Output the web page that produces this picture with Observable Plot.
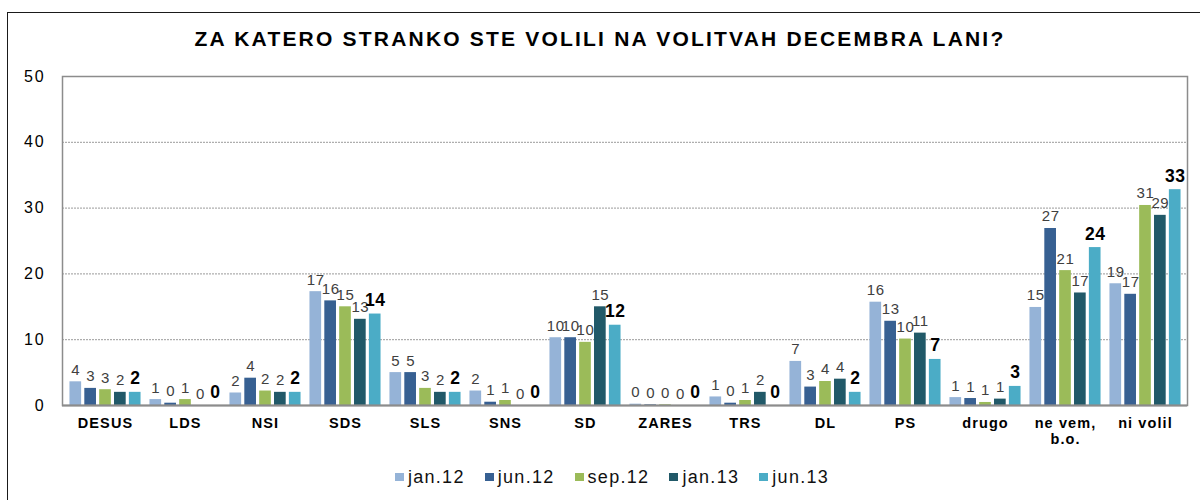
<!DOCTYPE html>
<html>
<head>
<meta charset="utf-8">
<script src="https://cdn.jsdelivr.net/npm/d3@7"></script>
<script src="https://cdn.jsdelivr.net/npm/@observablehq/plot@0.6"></script>
<style>
html, body { margin: 0; padding: 0; background: #fff; overflow: hidden; }
body { font-family: Arial, "Liberation Sans", sans-serif; width: 1200px; height: 500px; position: relative; }
#box { position: absolute; left: 7px; top: 12px; width: 1300px; height: 600px; border-left: 1px solid #1a1a1a; border-top: 1px solid #1a1a1a; pointer-events: none; }
#title { height: 60px; box-sizing: border-box; padding-top: 27px; text-align: center; font-size: 21px; font-weight: bold; line-height: 24px; letter-spacing: 2.2px; color: #000; }
#chart svg { display: block; }
#legend { display: flex; justify-content: center; align-items: center; height: 30px; margin-top: 12px; padding-left: 24px; font-size: 18px; letter-spacing: 1.3px; color: #111; }
#legend .item { display: flex; align-items: center; margin: 0 10px; }
#legend .sw { width: 9px; height: 8px; margin-right: 4px; }
g[font-size="16"] text { letter-spacing: 1.8px; }
g[font-size="14.5"] text { letter-spacing: 1.1px; }
g[font-size="15"] text { letter-spacing: 0.6px; }
g[font-size="17.5"] text { letter-spacing: 0.4px; }
</style>
</head>
<body>
<div id="title">ZA KATERO STRANKO STE VOLILI NA VOLITVAH DECEMBRA LANI?</div>
<div id="chart"></div>
<div id="legend"></div>
<div id="box"></div>
<script>
const categories = ["DESUS", "LDS", "NSI", "SDS", "SLS", "SNS", "SD", "ZARES", "TRS", "DL", "PS", "drugo", "ne vem,\nb.o.", "ni volil"];
const series = ["jan.12", "jun.12", "sep.12", "jan.13", "jun.13"];
const colors = ["#95B3D7", "#376092", "#9BBB59", "#215968", "#4BACC6"];

// bar heights
const jan12 = [3.6, 0.9, 1.9, 17.3, 5.0, 2.2, 10.3, 0.2, 1.3, 6.7, 15.7, 1.2, 14.9, 18.5];
const jun12 = [2.6, 0.35, 4.15, 15.9, 5.0, 0.5, 10.3, 0.1, 0.35, 2.8, 12.8, 1.06, 26.9, 16.9];
const sep12 = [2.4, 0.9, 2.2, 15.0, 2.6, 0.76, 9.6, 0.1, 0.76, 3.65, 10.1, 0.46, 20.5, 30.4];
const jan13 = [2.0, 0, 2.0, 13.1, 2.0, 0, 15.0, 0, 2.0, 4.0, 11.0, 0.97, 17.1, 28.9];
const jun13 = [2.0, 0, 2.0, 13.9, 2.0, 0, 12.2, 0, 0, 2.0, 7.0, 2.9, 24.0, 32.8];

// data labels as printed
const lab_jan12 = [4, 1, 2, 17, 5, 2, 10, 0, 1, 7, 16, 1, 15, 19];
const lab_jun12 = [3, 0, 4, 16, 5, 1, 10, 0, 0, 3, 13, 1, 27, 17];
const lab_sep12 = [3, 1, 2, 15, 3, 1, 10, 0, 1, 4, 10, 1, 21, 31];
const lab_jan13 = [2, 0, 2, 13, 2, 0, 15, 0, 2, 4, 11, 1, 17, 29];
const lab_jun13 = [2, 0, 2, 14, 2, 0, 12, 0, 0, 2, 7, 3, 24, 33];

const yTicks = [0, 10, 20, 30, 40, 50];
const gridTicks = [10, 20, 30, 40];

const values = [jan12, jun12, sep12, jan13, jun13];
const labels = [lab_jan12, lab_jun12, lab_sep12, lab_jan13, lab_jun13];
const rows = series.map((s, i) => categories.map((c, j) => ({cat: c, value: values[i][j], label: String(labels[i][j])})));

const W = 1200, H = 390, mL = 62, mR = 13, mT = 16, mB = 45;
const bw = (W - mL - mR) / categories.length;
const sub = d3.scaleBand().domain(series).range([0, bw]).paddingInner(0.19).paddingOuter(0.3);

const barMarks = series.map((s, i) => Plot.barY(rows[i], {
  x: "cat", y: "value", fill: colors[i],
  insetLeft: sub(s), insetRight: bw - sub(s) - sub.bandwidth()
}));

const labelMarks = series.map((s, i) => {
  const last = i === series.length - 1;
  return Plot.text(rows[i], {
    x: "cat", y: "value", text: "label",
    dx: sub(s) + sub.bandwidth() / 2 - bw / 2,
    dy: last ? -8 : -7,
    lineAnchor: "bottom",
    fontSize: last ? 17.5 : 15,
    fontWeight: last ? "bold" : "normal",
    fill: last ? "#000" : "#404040"
  });
});

const chart = Plot.plot({
  width: W, height: H,
  marginLeft: mL, marginRight: mR, marginTop: mT, marginBottom: mB,
  style: {fontFamily: "Arial, 'Liberation Sans', sans-serif", background: "#fff", color: "#000"},
  x: {type: "band", domain: categories, padding: 0, axis: null},
  y: {domain: [0, 50], axis: null},
  marks: [
    Plot.ruleY(gridTicks, {stroke: "#9a9a9a", strokeDasharray: "2,1", strokeWidth: 1}),
    ...barMarks,
    Plot.frame({stroke: "#8c8c8c", strokeWidth: 1.5}),
    Plot.ruleY([0], {stroke: "#8c8c8c", strokeWidth: 2}),
    ...labelMarks,
    Plot.text(yTicks, {y: d => d, text: d => String(d), frameAnchor: "left", textAnchor: "end", dx: -17, fontSize: 16, fill: "#000"}),
    Plot.text(categories, {x: d => d, text: d => d, frameAnchor: "bottom", lineAnchor: "top", dy: 12, fontSize: 14.5, fontWeight: "bold", lineHeight: 1.05, fill: "#000"})
  ]
});
document.getElementById("chart").appendChild(chart);

const legend = document.getElementById("legend");
series.forEach((s, i) => {
  const item = document.createElement("div");
  item.className = "item";
  const sw = document.createElement("span");
  sw.className = "sw";
  sw.style.background = colors[i];
  const t = document.createElement("span");
  t.textContent = s;
  item.appendChild(sw);
  item.appendChild(t);
  legend.appendChild(item);
});
</script>
</body>
</html>
